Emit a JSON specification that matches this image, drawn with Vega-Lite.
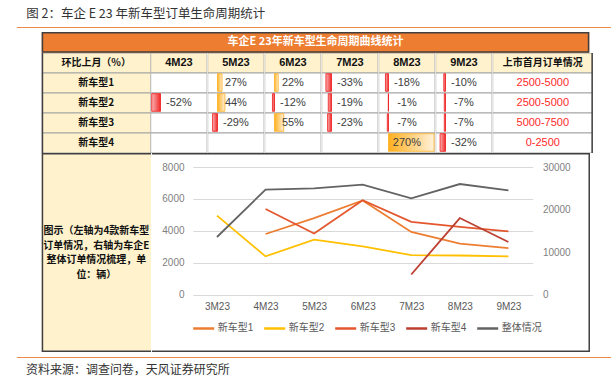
{
  "$schema": "https://vega.github.io/schema/vega-lite/v6.json",
  "background": "white",
  "padding": {"left": 16.7, "top": 0, "right": 0, "bottom": 0},
  "spacing": 0,
  "resolve": {"legend": {"color": "independent"}},
  "config": {
    "view": {"stroke": null},
    "font": "Liberation Sans, Noto Sans CJK SC",
    "locale": {"number": {"decimal": ".", "thousands": ",", "grouping": [3], "currency": ["$", ""], "minus": "-"}}
  },
  "datasets": {
    "rows": [
      {"r": "环比上月（%）"}, {"r": "新车型1"}, {"r": "新车型2"}, {"r": "新车型3"}, {"r": "新车型4"}
    ],
    "cells": [
      {"m": "4M23", "r": "环比上月（%）"}, {"m": "4M23", "r": "新车型1"}, {"m": "4M23", "r": "新车型2", "v": -0.52}, {"m": "4M23", "r": "新车型3"}, {"m": "4M23", "r": "新车型4"},
      {"m": "5M23", "r": "环比上月（%）"}, {"m": "5M23", "r": "新车型1", "v": 0.27}, {"m": "5M23", "r": "新车型2", "v": 0.44}, {"m": "5M23", "r": "新车型3", "v": -0.29}, {"m": "5M23", "r": "新车型4"},
      {"m": "6M23", "r": "环比上月（%）"}, {"m": "6M23", "r": "新车型1", "v": 0.22}, {"m": "6M23", "r": "新车型2", "v": -0.12}, {"m": "6M23", "r": "新车型3", "v": 0.55}, {"m": "6M23", "r": "新车型4"},
      {"m": "7M23", "r": "环比上月（%）"}, {"m": "7M23", "r": "新车型1", "v": -0.33}, {"m": "7M23", "r": "新车型2", "v": -0.19}, {"m": "7M23", "r": "新车型3", "v": -0.23}, {"m": "7M23", "r": "新车型4"},
      {"m": "8M23", "r": "环比上月（%）"}, {"m": "8M23", "r": "新车型1", "v": -0.18}, {"m": "8M23", "r": "新车型2", "v": -0.01}, {"m": "8M23", "r": "新车型3", "v": -0.07}, {"m": "8M23", "r": "新车型4", "v": 2.70},
      {"m": "9M23", "r": "环比上月（%）"}, {"m": "9M23", "r": "新车型1", "v": -0.10}, {"m": "9M23", "r": "新车型2", "v": -0.07}, {"m": "9M23", "r": "新车型3", "v": -0.07}, {"m": "9M23", "r": "新车型4", "v": -0.32}
    ],
    "launch": [
      {"r": "环比上月（%）", "t": "上市首月订单情况"},
      {"r": "新车型1", "t": "2500-5000"},
      {"r": "新车型2", "t": "2500-5000"},
      {"r": "新车型3", "t": "5000-7500"},
      {"r": "新车型4", "t": "0-2500"}
    ],
    "lines": [
      {"s": "新车型1", "m": "4M23", "v": 3800}, {"s": "新车型1", "m": "5M23", "v": 4800}, {"s": "新车型1", "m": "6M23", "v": 5900}, {"s": "新车型1", "m": "7M23", "v": 3930}, {"s": "新车型1", "m": "8M23", "v": 3200}, {"s": "新车型1", "m": "9M23", "v": 2910},
      {"s": "新车型2", "m": "3M23", "v": 4950}, {"s": "新车型2", "m": "4M23", "v": 2400}, {"s": "新车型2", "m": "5M23", "v": 3450}, {"s": "新车型2", "m": "6M23", "v": 3030}, {"s": "新车型2", "m": "7M23", "v": 2480}, {"s": "新车型2", "m": "8M23", "v": 2450}, {"s": "新车型2", "m": "9M23", "v": 2400},
      {"s": "新车型3", "m": "4M23", "v": 5370}, {"s": "新车型3", "m": "5M23", "v": 3830}, {"s": "新车型3", "m": "6M23", "v": 5920}, {"s": "新车型3", "m": "7M23", "v": 4560}, {"s": "新车型3", "m": "8M23", "v": 4240}, {"s": "新车型3", "m": "9M23", "v": 3970},
      {"s": "新车型4", "m": "7M23", "v": 1260}, {"s": "新车型4", "m": "8M23", "v": 4800}, {"s": "新车型4", "m": "9M23", "v": 3300},
      {"s": "整体情况", "m": "3M23", "v": 13540}, {"s": "整体情况", "m": "4M23", "v": 24690}, {"s": "整体情况", "m": "5M23", "v": 24990}, {"s": "整体情况", "m": "6M23", "v": 25860}, {"s": "整体情况", "m": "7M23", "v": 22640}, {"s": "整体情况", "m": "8M23", "v": 26000}, {"s": "整体情况", "m": "9M23", "v": 24520}
    ]
  },
  "vconcat": [
    {
      "width": 594.3, "height": 26.2,
      "data": {"values": [{"t": "图 2：车企 E 23 年新车型订单生命周期统计"}]},
      "mark": {"type": "text", "align": "left", "baseline": "middle", "dx": 9.5, "dy": 1.2, "fontSize": 12.5, "color": "#333333", "font": "Noto Sans CJK SC"},
      "encoding": {"x": {"value": 0}, "text": {"field": "t"}}
    },
    {
      "width": 594.3, "height": 4.8,
      "data": {"values": [{}]},
      "mark": {"type": "rule", "color": "#EE8B4C", "strokeWidth": 2, "clip": true},
      "encoding": {"y": {"value": 0}}
    },
    {
      "spacing": 0,
      "resolve": {"legend": {"color": "independent"}},
      "hconcat": [
        {"width": 25, "height": 10, "data": {"values": []}, "mark": "point", "encoding": {}},
        {
          "spacing": 0,
          "resolve": {"legend": {"color": "independent"}},
          "vconcat": [
            {
              "width": 547.6, "height": 20.7,
              "view": {"fill": "#ED7D31"},
              "data": {"values": [{"t": "车企E 23年新车型生命周期曲线统计"}]},
              "layer": [
                {"mark": {"type": "text", "color": "white", "fontWeight": "bold", "fontSize": 11, "baseline": "middle", "font": "Noto Sans CJK SC"}, "encoding": {"text": {"field": "t"}}},
                {"mark": {"type": "rect", "filled": false, "color": "#404040", "strokeWidth": 3, "clip": true}, "encoding": {}}
              ]
            },
            {
              "spacing": 0,
              "hconcat": [
                {
                  "width": 109, "height": 100,
                  "layer": [
                    {"data": {"name": "rows"}, "mark": {"type": "rect", "fill": "#FFF2CC", "stroke": "#A6A6A6", "strokeWidth": 1, "clip": true},
                     "encoding": {"y": {"field": "r", "type": "nominal", "sort": null, "axis": null, "scale": {"domain": ["环比上月（%）", "新车型1", "新车型2", "新车型3", "新车型4"], "paddingInner": 0, "paddingOuter": 0}}}},
                    {"data": {"name": "rows"}, "mark": {"type": "text", "fontWeight": "bold", "fontSize": 10, "color": "#111111", "font": "Noto Sans CJK SC"},
                     "encoding": {"y": {"field": "r", "type": "nominal", "sort": null, "axis": null, "scale": {"domain": ["环比上月（%）", "新车型1", "新车型2", "新车型3", "新车型4"], "paddingInner": 0, "paddingOuter": 0}}, "text": {"field": "r"}}},
                    {"data": {"values": [{}]}, "mark": {"type": "rule", "color": "#404040", "strokeWidth": 3, "clip": true}, "encoding": {"x": {"value": 0}}}
                  ]
                },
                {
                  "data": {"name": "cells"},
                  "facet": {"column": {"field": "m", "type": "nominal", "title": null, "sort": ["4M23", "5M23", "6M23", "7M23", "8M23", "9M23"], "header": {"labels": false, "labelPadding": 0, "titlePadding": 0}}},
                  "spacing": 0,
                  "spec": {
                    "width": 56.4, "height": 100,
                    "layer": [
                      {"mark": {"type": "rect", "stroke": "#A6A6A6", "strokeWidth": 1, "clip": true},
                       "encoding": {
                         "y": {"field": "r", "type": "nominal", "sort": null, "axis": null, "scale": {"domain": ["环比上月（%）", "新车型1", "新车型2", "新车型3", "新车型4"], "paddingInner": 0, "paddingOuter": 0}},
                         "fill": {"condition": {"test": "datum.r === '环比上月（%）'", "value": "#FFF2CC"}, "value": "#FFFFFF"}
                       }},
                      {"transform": [{"filter": "datum.v < 0"}],
                       "mark": {"type": "bar", "height": {"band": 0.88}, "yOffset": -0.5, "stroke": "#F01818", "strokeWidth": 0.8,
                                "color": {"gradient": "linear", "x1": 0, "x2": 1, "y1": 0, "y2": 0, "stops": [{"offset": 0, "color": "#FBB4B4"}, {"offset": 1, "color": "#F02828"}]}},
                       "encoding": {
                         "y": {"field": "r", "type": "nominal", "sort": null, "axis": null, "scale": {"domain": ["环比上月（%）", "新车型1", "新车型2", "新车型3", "新车型4"], "paddingInner": 0, "paddingOuter": 0}},
                         "x": {"field": "v", "type": "quantitative", "axis": null, "scale": {"domain": [-0.58, 2.76], "nice": false, "zero": false}},
                         "x2": {"datum": 0}
                       }},
                      {"transform": [{"filter": "datum.v > 0"}],
                       "mark": {"type": "bar", "height": {"band": 0.88}, "yOffset": -0.5, "stroke": "#FFB020", "strokeWidth": 0.8,
                                "color": {"gradient": "linear", "x1": 0, "x2": 1, "y1": 0, "y2": 0, "stops": [{"offset": 0, "color": "#FFB020"}, {"offset": 1, "color": "#FFF1DA"}]}},
                       "encoding": {
                         "y": {"field": "r", "type": "nominal", "sort": null, "axis": null, "scale": {"domain": ["环比上月（%）", "新车型1", "新车型2", "新车型3", "新车型4"], "paddingInner": 0, "paddingOuter": 0}},
                         "x": {"field": "v", "type": "quantitative", "axis": null, "scale": {"domain": [-0.58, 2.76], "nice": false, "zero": false}},
                         "x2": {"datum": 0}
                       }},
                      {"transform": [{"filter": "datum.r === '环比上月（%）'"}],
                       "mark": {"type": "text", "fontWeight": "bold", "fontSize": 11, "color": "#111111"},
                       "encoding": {
                         "y": {"field": "r", "type": "nominal", "sort": null, "axis": null, "scale": {"domain": ["环比上月（%）", "新车型1", "新车型2", "新车型3", "新车型4"], "paddingInner": 0, "paddingOuter": 0}},
                         "text": {"field": "m"}
                       }},
                      {"transform": [{"filter": "isValid(datum.v)"}],
                       "mark": {"type": "text", "fontSize": 11, "color": "#404040"},
                       "encoding": {
                         "y": {"field": "r", "type": "nominal", "sort": null, "axis": null, "scale": {"domain": ["环比上月（%）", "新车型1", "新车型2", "新车型3", "新车型4"], "paddingInner": 0, "paddingOuter": 0}},
                         "text": {"field": "v", "type": "quantitative", "format": ".0%"}
                       }}
                    ]
                  }
                },
                {
                  "width": 100.2, "height": 100,
                  "layer": [
                    {"data": {"name": "launch"}, "mark": {"type": "rect", "stroke": "#A6A6A6", "strokeWidth": 1, "clip": true},
                     "encoding": {
                       "y": {"field": "r", "type": "nominal", "sort": null, "axis": null, "scale": {"domain": ["环比上月（%）", "新车型1", "新车型2", "新车型3", "新车型4"], "paddingInner": 0, "paddingOuter": 0}},
                       "fill": {"condition": {"test": "datum.r === '环比上月（%）'", "value": "#FFF2CC"}, "value": "#FFFFFF"}
                     }},
                    {"data": {"name": "launch"}, "transform": [{"filter": "datum.r === '环比上月（%）'"}],
                     "mark": {"type": "text", "fontWeight": "bold", "fontSize": 10, "color": "#111111", "font": "Noto Sans CJK SC"},
                     "encoding": {
                       "y": {"field": "r", "type": "nominal", "sort": null, "axis": null, "scale": {"domain": ["环比上月（%）", "新车型1", "新车型2", "新车型3", "新车型4"], "paddingInner": 0, "paddingOuter": 0}},
                       "text": {"field": "t"}
                     }},
                    {"data": {"name": "launch"}, "transform": [{"filter": "datum.r !== '环比上月（%）'"}],
                     "mark": {"type": "text", "fontSize": 11, "color": "#FF2A2A"},
                     "encoding": {
                       "y": {"field": "r", "type": "nominal", "sort": null, "axis": null, "scale": {"domain": ["环比上月（%）", "新车型1", "新车型2", "新车型3", "新车型4"], "paddingInner": 0, "paddingOuter": 0}},
                       "text": {"field": "t"}
                     }},
                    {"data": {"values": [{}]}, "mark": {"type": "rule", "color": "#404040", "strokeWidth": 3, "clip": true}, "encoding": {"x": {"value": "width"}}}
                  ]
                }
              ]
            },
            {
              "spacing": 0,
              "resolve": {"legend": {"color": "independent"}},
              "hconcat": [
                {
                  "width": 109.3, "height": 199,
                  "view": {"fill": "#FFF2CC"},
                  "layer": [
                    {"data": {"values": [{"t": ["图示（左轴为4款新车型", "订单情况，右轴为车企E", "整体订单情况梳理，单", "位：辆）"]}]},
                     "mark": {"type": "text", "fontWeight": "bold", "fontSize": 10, "lineHeight": 14.6, "baseline": "middle", "dy": -21.4, "color": "#111111", "font": "Noto Sans CJK SC"},
                     "encoding": {"text": {"field": "t"}}},
                    {"data": {"values": [{}]}, "mark": {"type": "rule", "color": "#404040", "strokeWidth": 3, "clip": true}, "encoding": {"x": {"value": 0}}},
                    {"data": {"values": [{}]}, "mark": {"type": "rule", "color": "#404040", "strokeWidth": 3, "clip": true}, "encoding": {"y": {"value": 0}}},
                    {"data": {"values": [{}]}, "mark": {"type": "rule", "color": "#404040", "strokeWidth": 3, "clip": true}, "encoding": {"y": {"value": "height"}}}
                  ]
                },
                {
                  "width": 438.3, "height": 199,
                  "layer": [
                    {"data": {"values": [{}]}, "mark": {"type": "rule", "color": "#404040", "strokeWidth": 3, "clip": true}, "encoding": {"y": {"value": 0}}},
                    {"data": {"values": [{}]}, "mark": {"type": "rule", "color": "#404040", "strokeWidth": 3, "clip": true}, "encoding": {"x": {"value": "width"}}},
                    {"data": {"values": [{}]}, "mark": {"type": "rule", "color": "#404040", "strokeWidth": 3, "clip": true}, "encoding": {"y": {"value": "height"}}},
                    {"data": {"name": "lines"}, "transform": [{"filter": "datum.s !== '整体情况'"}],
                     "mark": {"type": "line", "strokeWidth": 1.8},
                     "encoding": {
                       "x": {"field": "m", "type": "ordinal", "scale": {"domain": ["3M23", "4M23", "5M23", "6M23", "7M23", "8M23", "9M23"], "range": [41, 381], "paddingInner": 0, "paddingOuter": 0},
                             "axis": {"orient": "bottom", "offset": -57.4, "domain": false, "ticks": false, "tickSize": 0, "labelPadding": 7, "labelAngle": 0, "labelFontSize": 10, "labelColor": "#595959", "title": null}},
                       "y": {"field": "v", "type": "quantitative", "scale": {"domain": [0, 8000], "range": [141.6, 14], "nice": false},
                             "axis": {"orient": "left", "offset": -41, "values": [0, 2000, 4000, 6000, 8000], "format": "d", "grid": true, "gridColor": "#D9D9D9", "domain": false, "ticks": false, "tickSize": 0, "labelPadding": 8.7, "labelFontSize": 10, "labelColor": "#7F7F7F", "title": null}},
                       "color": {"field": "s", "type": "nominal",
                                 "scale": {"domain": ["新车型1", "新车型2", "新车型3", "新车型4", "整体情况"], "range": ["#ED7D31", "#FFC000", "#E4572E", "#BC3F30", "#636363"]},
                                 "legend": {"orient": "none", "legendX": 40, "legendY": 163.5, "direction": "horizontal", "columns": 5, "title": null, "symbolType": "stroke", "symbolSize": 441, "symbolStrokeWidth": 2.5, "labelFontSize": 10, "labelColor": "#595959", "labelOffset": 2, "columnPadding": 5, "padding": 0}}
                     }},
                    {"data": {"name": "lines"}, "transform": [{"filter": "datum.s === '整体情况'"}],
                     "mark": {"type": "line", "strokeWidth": 1.8},
                     "encoding": {
                       "x": {"field": "m", "type": "ordinal", "scale": {"domain": ["3M23", "4M23", "5M23", "6M23", "7M23", "8M23", "9M23"], "range": [41, 381], "paddingInner": 0, "paddingOuter": 0},
                             "axis": {"orient": "bottom", "offset": -57.4, "domain": false, "ticks": false, "tickSize": 0, "labelPadding": 7, "labelAngle": 0, "labelFontSize": 10, "labelColor": "#595959", "title": null}},
                       "y": {"field": "v", "type": "quantitative", "scale": {"domain": [0, 30000], "range": [141.6, 14], "nice": false},
                             "axis": {"orient": "right", "offset": -57.3, "values": [0, 10000, 20000, 30000], "format": "d", "grid": false, "domain": false, "ticks": false, "tickSize": 0, "labelPadding": 9.7, "labelFontSize": 10, "labelColor": "#7F7F7F", "title": null}},
                       "color": {"field": "s", "type": "nominal",
                                 "scale": {"domain": ["新车型1", "新车型2", "新车型3", "新车型4", "整体情况"], "range": ["#ED7D31", "#FFC000", "#E4572E", "#BC3F30", "#636363"]},
                                 "legend": {"orient": "none", "legendX": 40, "legendY": 163.5, "direction": "horizontal", "columns": 5, "title": null, "symbolType": "stroke", "symbolSize": 441, "symbolStrokeWidth": 2.5, "labelFontSize": 10, "labelColor": "#595959", "labelOffset": 2, "columnPadding": 5, "padding": 0}}
                     }}
                  ],
                  "resolve": {"scale": {"y": "independent"}}
                }
              ]
            }
          ]
        }
      ]
    },
    {"width": 10, "height": 4.5, "data": {"values": []}, "mark": "point", "encoding": {}},
    {
      "width": 594.3, "height": 23.8,
      "data": {"values": [{"t": "资料来源：调查问卷，天风证券研究所"}]},
      "layer": [
        {"mark": {"type": "rule", "color": "#EE8B4C", "strokeWidth": 2, "clip": true}, "encoding": {"y": {"value": 0}}},
        {"mark": {"type": "text", "align": "left", "baseline": "middle", "dx": 9.3, "dy": 1.2, "fontSize": 12, "color": "#333333", "font": "Noto Sans CJK SC"}, "encoding": {"x": {"value": 0}, "text": {"field": "t"}}}
      ]
    }
  ]
}
